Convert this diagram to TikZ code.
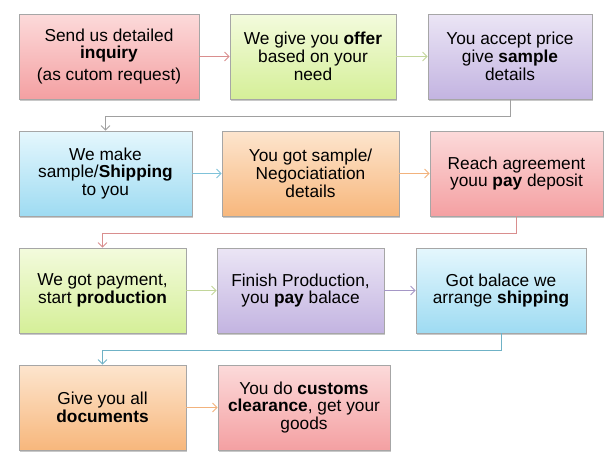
\documentclass[tikz,border=0pt]{standalone}
\usepackage{fontspec}
\setmainfont{Liberation Sans}
\usetikzlibrary{arrows.meta,shadows}
\definecolor{boxborder}{HTML}{A6A6A6}
\definecolor{redT}{HTML}{FCDADA}\definecolor{redB}{HTML}{F4A0A2}
\definecolor{grnT}{HTML}{F3FBDD}\definecolor{grnB}{HTML}{D5EF98}
\definecolor{purT}{HTML}{EBE5F5}\definecolor{purB}{HTML}{C3B4E1}
\definecolor{bluT}{HTML}{E5F7FD}\definecolor{bluB}{HTML}{9EDBF2}
\definecolor{orgT}{HTML}{FDE5CE}\definecolor{orgB}{HTML}{F7B77C}
\definecolor{redL}{HTML}{D98E8E}
\definecolor{grnL}{HTML}{C2D69A}
\definecolor{gryL}{HTML}{A0A0A0}
\definecolor{bluL}{HTML}{7FC2D9}
\definecolor{orgL}{HTML}{F2B27C}
\definecolor{purL}{HTML}{A597C6}
\definecolor{tealL}{HTML}{6FB2C6}
\begin{document}
\begin{tikzpicture}[x=1pt,y=-1pt,
  box/.style={draw=boxborder, line width=0.6pt, minimum height=85pt, inner sep=2pt,
    align=center, font=\fontsize{17.3}{17.8}\selectfont,
    drop shadow={shadow xshift=1.4pt, shadow yshift=-1.6pt, opacity=0.3, fill=black!70}},
  redbox/.style={box, top color=redT, bottom color=redB},
  grnbox/.style={box, top color=grnT, bottom color=grnB},
  purbox/.style={box, top color=purT, bottom color=purB},
  blubox/.style={box, top color=bluT, bottom color=bluB},
  orgbox/.style={box, top color=orgT, bottom color=orgB},
  conn/.style={line width=0.9pt, -{Straight Barb[length=4.5pt,width=9pt]}}
]
\fill[white] (0,0) rectangle (613,467);
\useasboundingbox (0,0) rectangle (613,467);

% row 1
\node[redbox, minimum width=180pt] (b1) at (109,56.5) {Send us detailed\\\textbf{inquiry}\\[4pt](as cutom request)};
\node[grnbox, minimum width=166pt] (b2) at (313,56.5) {We give you \textbf{offer}\\based on your\\need};
\node[purbox, minimum width=164pt] (b3) at (510,56.5) {You accept price\\give \textbf{sample}\\details};
% row 2
\node[blubox, minimum width=173pt] (b4) at (105.5,173.5) {We make\\sample/\textbf{Shipping}\\to you};
\node[orgbox, minimum width=177pt] (b5) at (310.5,173.5) {You got sample/\\Negociatiation\\details};
\node[redbox, minimum width=173pt] (b6) at (516.5,173.5) {Reach agreement\\youu \textbf{pay} deposit};
% row 3
\node[grnbox, minimum width=167pt] (b7) at (102.5,290.5) {We got payment,\\start \textbf{production}};
\node[purbox, minimum width=167pt] (b8) at (300.5,290.5) {Finish Production,\\you \textbf{pay} balace};
\node[blubox, minimum width=170pt] (b9) at (501,290.5) {Got balace we\\arrange \textbf{shipping}};
% row 4
\node[orgbox, minimum width=167pt] (b10) at (102.5,407.5) {Give you all\\\textbf{documents}};
\node[redbox, minimum width=172pt] (b11) at (304,407.5) {You do \textbf{customs}\\\textbf{clearance}, get your\\goods};

% connectors
\draw[conn, redL] (b1) -- (b2);
\draw[conn, grnL] (b2) -- (b3);
\draw[conn, gryL] (b3.south) -- ++(0,17) -| (b4.north);
\draw[conn, bluL] (b4) -- (b5);
\draw[conn, orgL] (b5) -- (b6);
\draw[conn, redL] (b6.south) -- ++(0,17) -| (b7.north);
\draw[conn, grnL] (b7) -- (b8);
\draw[conn, purL] (b8) -- (b9);
\draw[conn, tealL] (b9.south) -- ++(0,17) -| (b10.north);
\draw[conn, orgL] (b10) -- (b11);
\end{tikzpicture}
\end{document}
